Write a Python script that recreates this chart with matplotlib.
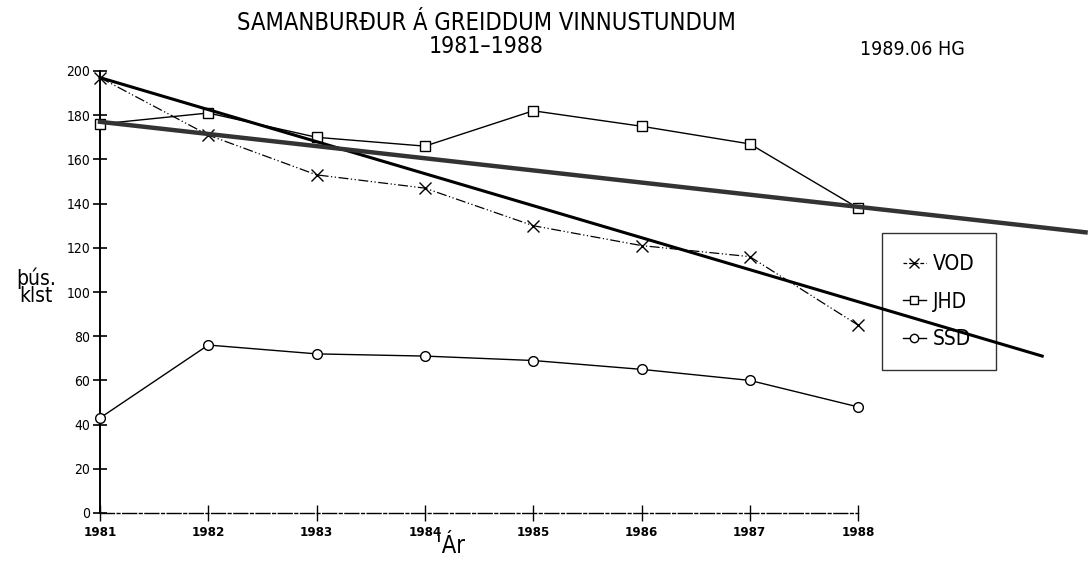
import matplotlib
matplotlib.use("Agg")
import matplotlib.pyplot as plt
from matplotlib.lines import Line2D

plt.rcParams['font.family'] = ['DejaVu Sans']
plt.rcParams['font.stretch'] = 'condensed'

years = [1981, 1982, 1983, 1984, 1985, 1986, 1987, 1988]
year_labels = ['1981', '1982', '1983', '1984', '1985', '1986', '1987', '1988']
vod = [197, 171, 153, 147, 130, 121, 116, 85]
jhd = [176, 181, 170, 166, 182, 175, 167, 138]
ssd = [43, 76, 72, 71, 69, 65, 60, 48]

# hand-drawn trend lines (end points)
trend1_x = [1981, 1989.7]
trend1_y = [197, 71]
trend2_x = [1981, 1990.1]
trend2_y = [177, 127]

yticks = [0, 20, 40, 60, 80, 100, 120, 140, 160, 180, 200]

W, H = 1089, 569
fig = plt.figure(figsize=(W / 100, H / 100), dpi=100)
left_px, right_px = 100, 1085
bot_px, top_px = 513, 71
ax = fig.add_axes([left_px / W, (H - bot_px) / H, (right_px - left_px) / W, (bot_px - top_px) / H])
ax.set_xlim(1981, 1981 + (right_px - left_px) / 108.3)
ax.set_ylim(0, 200)

ax.plot(years, vod, color='black', lw=0.9, ls=(0, (8, 2, 1, 2, 1, 2)), marker='x', ms=8,
        mew=1.0, clip_on=False, zorder=3)
ax.plot(years, jhd, color='black', lw=1.0, marker='s', ms=7, mfc='white', mew=1.0,
        clip_on=False, zorder=3)
ax.plot(years, ssd, color='black', lw=1.0, marker='o', ms=7, mfc='white', mew=1.0,
        clip_on=False, zorder=3)

ax.plot(trend1_x, trend1_y, color='black', lw=2.2, clip_on=False, zorder=4)
ax.plot(trend2_x, trend2_y, color='#333333', lw=3.2, clip_on=False, zorder=4)

for s in ['top', 'right']:
    ax.spines[s].set_visible(False)
ax.spines['left'].set_bounds(0, 200)
ax.spines['left'].set_linewidth(1.4)
ax.spines['bottom'].set_bounds(1981, 1988)
ax.spines['bottom'].set_linestyle((0, (10, 2, 2, 2)))
ax.spines['bottom'].set_linewidth(1.0)

ax.set_yticks(yticks)
ax.set_yticklabels([str(v) for v in yticks], fontsize=10)
ax.set_xticks(years)
ax.set_xticklabels(year_labels, fontsize=9.5, fontweight='bold')
ax.tick_params(axis='y', direction='inout', length=10, width=1.2, pad=2)
ax.tick_params(axis='x', direction='inout', length=12, width=1.0, pad=3)

cx = 0.5 * (228 + 745) / W
fig.text(cx, 1 - 30 / H, 'SAMANBURÐUR Á GREIDDUM VINNUSTUNDUM',
         ha='center', va='baseline', fontsize=17)
fig.text(cx, 1 - 53 / H, '1981–1988', ha='center', va='baseline', fontsize=16.5)
fig.text(912 / W, 1 - 55 / H, '1989.06 HG', ha='center', va='baseline', fontsize=14)
fig.text(36 / W, 1 - 287 / H, 'þús.\nklst', ha='center', va='center', fontsize=15,
         linespacing=0.8)
fig.text(451 / W, 1 - 546 / H, "'Ár", ha='center', va='center', fontsize=17)

handles = [
    Line2D([], [], color='black', lw=0.9, ls=(0, (3, 1.5)), marker='x', ms=7),
    Line2D([], [], color='black', lw=1.0, marker='s', ms=6, mfc='white'),
    Line2D([], [], color='black', lw=1.0, marker='o', ms=6, mfc='white'),
]
leg = fig.legend(handles, ['VOD', 'JHD', 'SSD'], loc='upper left',
                 bbox_to_anchor=(882 / W, 1 - 233 / H), fontsize=15, frameon=True,
                 fancybox=False, edgecolor='black', facecolor='none', handlelength=1.1,
                 handletextpad=0.35, labelspacing=0.85, borderpad=1.0, borderaxespad=0)
leg.get_frame().set_linewidth(1.0)
leg.set_zorder(2)

fig.savefig('out.png', dpi=100)
